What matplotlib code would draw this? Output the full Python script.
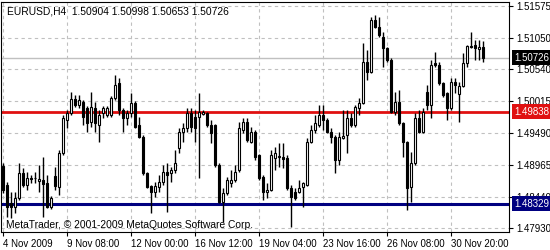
import matplotlib
matplotlib.use('Agg')
import matplotlib.pyplot as plt
import matplotlib.transforms as mtransforms
import numpy as np

# ---- data (EURUSD, H4) ----
opens = [1.48951, 1.48639, 1.48344, 1.48278, 1.48426, 1.48836, 1.48639, 1.48754, 1.48754, 1.48705,
         1.48721, 1.48672, 1.48278, 1.48787, 1.48606, 1.49164, 1.49705, 1.49820, 1.50049, 1.49951,
         1.50000, 1.49902, 1.49672, 1.49902, 1.49623, 1.49820, 1.49787, 1.49787, 1.50066, 1.50312,
         1.49869, 1.49738, 1.49820, 1.49984, 1.49623, 1.49426, 1.48836, 1.48623, 1.48524, 1.48606,
         1.48688, 1.48852, 1.48836, 1.48885, 1.49246, 1.49508, 1.49574, 1.49820, 1.49754, 1.49754,
         1.49803, 1.49820, 1.49623, 1.49623, 1.48967, 1.48360, 1.48508, 1.48672, 1.48721, 1.48885,
         1.49541, 1.49672, 1.49344, 1.49508, 1.49131, 1.48770, 1.48524, 1.48557, 1.49082, 1.49098,
         1.49098, 1.49082, 1.48590, 1.48524, 1.48524, 1.48606, 1.48639, 1.49344, 1.49541, 1.49623,
         1.49787, 1.49705, 1.49508, 1.49426, 1.49049, 1.49410, 1.49459, 1.49738, 1.49623, 1.49902,
         1.49984, 1.50656, 1.50492, 1.51345, 1.51230, 1.51066, 1.50886, 1.50689, 1.49836, 1.50000,
         1.49656, 1.49344, 1.48606, 1.49000, 1.49738, 1.49508, 1.50164, 1.49951, 1.50640, 1.50607,
         1.50312, 1.50148, 1.49902, 1.50328, 1.50131, 1.50263, 1.50640, 1.50919, 1.50935, 1.50869,
         1.50904]
highs = [1.49000, 1.48688, 1.48524, 1.48524, 1.49000, 1.48918, 1.48852, 1.48803, 1.48852, 1.48967,
         1.49098, 1.48803, 1.48459, 1.48934, 1.49213, 1.49787, 1.49869, 1.50164, 1.50115, 1.50115,
         1.50033, 1.49935, 1.50164, 1.50000, 1.49869, 1.49935, 1.49935, 1.50099, 1.50443, 1.50394,
         1.49902, 1.49869, 1.50148, 1.50017, 1.49754, 1.49459, 1.48852, 1.48639, 1.48688, 1.48803,
         1.48967, 1.49000, 1.48934, 1.49213, 1.49574, 1.49656, 1.49902, 1.49902, 1.49869, 1.50148,
         1.49869, 1.49836, 1.49705, 1.49640, 1.49000, 1.48590, 1.48770, 1.48885, 1.48967, 1.49672,
         1.49738, 1.49738, 1.49590, 1.49541, 1.49148, 1.48803, 1.48672, 1.49213, 1.49262, 1.49328,
         1.49328, 1.49131, 1.48639, 1.48590, 1.48721, 1.48688, 1.49410, 1.49623, 1.49787, 1.49951,
         1.49951, 1.49738, 1.49574, 1.49459, 1.49508, 1.49869, 1.49869, 1.49820, 1.49951, 1.50066,
         1.50968, 1.50853, 1.51394, 1.51427, 1.51394, 1.51148, 1.50902, 1.50722, 1.50164, 1.50197,
         1.49672, 1.49360, 1.49180, 1.49820, 1.49869, 1.49902, 1.50279, 1.50689, 1.50820, 1.50656,
         1.50328, 1.50164, 1.50394, 1.50394, 1.50328, 1.50804, 1.50935, 1.51148, 1.51017, 1.51017,
         1.50998]
lows = [1.48508, 1.48114, 1.48098, 1.48180, 1.48393, 1.48606, 1.48557, 1.48672, 1.48672, 1.48524,
        1.48114, 1.48261, 1.48245, 1.48557, 1.48475, 1.49131, 1.49574, 1.49787, 1.49918, 1.49902,
        1.49623, 1.49508, 1.49590, 1.49508, 1.49344, 1.49738, 1.49754, 1.49754, 1.50033, 1.49787,
        1.49508, 1.49623, 1.49754, 1.49580, 1.49410, 1.48803, 1.48590, 1.48180, 1.48442, 1.48524,
        1.48639, 1.48196, 1.48688, 1.48836, 1.49164, 1.49344, 1.49508, 1.49508, 1.49344, 1.48754,
        1.49787, 1.49590, 1.49328, 1.48934, 1.48344, 1.48032, 1.48475, 1.48606, 1.48688, 1.48852,
        1.49492, 1.49344, 1.49328, 1.49049, 1.48721, 1.48393, 1.48426, 1.48541, 1.48885, 1.48934,
        1.48918, 1.48557, 1.47950, 1.48393, 1.48508, 1.48278, 1.48623, 1.49328, 1.49492, 1.49590,
        1.49541, 1.49492, 1.49328, 1.48836, 1.48967, 1.49394, 1.49164, 1.49590, 1.49590, 1.49787,
        1.49967, 1.50361, 1.50476, 1.51214, 1.51066, 1.50574, 1.50656, 1.49820, 1.49787, 1.49623,
        1.49098, 1.48229, 1.48360, 1.48967, 1.49492, 1.49492, 1.49869, 1.49738, 1.50574, 1.50279,
        1.50082, 1.49705, 1.49869, 1.50148, 1.49672, 1.50246, 1.50574, 1.50886, 1.50689, 1.50689,
        1.50653]
closes = [1.48557, 1.48278, 1.48278, 1.48426, 1.48836, 1.48639, 1.48754, 1.48737, 1.48750, 1.48737,
          1.48655, 1.48278, 1.48426, 1.48623, 1.49164, 1.49738, 1.49820, 1.50049, 1.49951, 1.50033,
          1.49754, 1.49656, 1.49918, 1.49656, 1.49787, 1.49902, 1.49902, 1.50066, 1.50279, 1.49869,
          1.49738, 1.49820, 1.49984, 1.49590, 1.49426, 1.48836, 1.48606, 1.48524, 1.48623, 1.48688,
          1.48852, 1.48803, 1.48885, 1.49000, 1.49508, 1.49574, 1.49820, 1.49590, 1.49574, 1.49836,
          1.49836, 1.49623, 1.49492, 1.48967, 1.48360, 1.48508, 1.48721, 1.48721, 1.48852, 1.49574,
          1.49672, 1.49377, 1.49508, 1.49098, 1.48754, 1.48524, 1.48557, 1.49131, 1.49164, 1.49115,
          1.49065, 1.48590, 1.48442, 1.48426, 1.48590, 1.48672, 1.49344, 1.49541, 1.49656, 1.49787,
          1.49705, 1.49508, 1.49426, 1.49049, 1.49426, 1.49443, 1.49738, 1.49623, 1.49918, 1.49984,
          1.50656, 1.50492, 1.51345, 1.51230, 1.51099, 1.50886, 1.50689, 1.49836, 1.50000, 1.49656,
          1.49344, 1.48590, 1.49000, 1.49738, 1.49508, 1.49836, 1.49951, 1.50607, 1.50607, 1.50312,
          1.50115, 1.49902, 1.50328, 1.50279, 1.50263, 1.50640, 1.50919, 1.50902, 1.50886, 1.50902,
          1.50726]

x_tick_pos = [0, 16, 32, 48, 64, 80, 96, 112]
x_tick_labels = ["4 Nov 2009", "9 Nov 08:00", "12 Nov 00:00", "16 Nov 12:00",
                 "19 Nov 04:00", "23 Nov 16:00", "26 Nov 08:00", "30 Nov 20:00"]
y_ticks = [1.51575, 1.51050, 1.50540, 1.50015, 1.49490, 1.48965, 1.48440, 1.47930]
current_price = 1.50726
red_level = 1.49838
blue_level = 1.48329
header = "EURUSD,H4  1.50904 1.50998 1.50653 1.50726"
copyright_text = "MetaTrader, \u00a9 2001-2009 MetaQuotes Software Corp."

FONT = "Liberation Sans"
FS = 7.0
FS_TXT = 7.35

fig = plt.figure(figsize=(5.5, 2.5), dpi=100)
fig.patch.set_facecolor("white")
ax = fig.add_axes([1/550, 18/250, 508/550, 230/250])
ax.set_facecolor("white")

o = np.array(opens); h = np.array(highs); l = np.array(lows); c = np.array(closes)
x = np.arange(len(o))
up = c >= o

# grid
ax.set_yticks(y_ticks)
ax.set_xticks(x_tick_pos)
ax.grid(True, color="#c0c0c0", linestyle=(0, (3, 3)), linewidth=0.8, zorder=0)
ax.axhline(current_price, color="#c0c0c0", linewidth=1.0, zorder=1)

# levels
ax.axhline(red_level, color="#e01010", linewidth=2.0, zorder=2)
ax.axhline(blue_level, color="#000080", linewidth=2.2, zorder=2)

# candles
ax.vlines(x, l, h, color="black", linewidth=1.0, zorder=3)
body_h = np.abs(c - o)
ax.bar(x, body_h, bottom=np.minimum(o, c), width=0.72,
       color=np.where(up, "white", "black"), edgecolor="black", linewidth=0.8, zorder=4)

ax.set_xlim(-0.5, 126.5)
ax.set_ylim(1.47868, 1.51640)

for s in ax.spines.values():
    s.set_color("black")
    s.set_linewidth(0.8)

ax.yaxis.tick_right()
ax.set_yticklabels([f"{v:.5f}" for v in y_ticks], fontsize=FS, family=FONT)
ax.set_xticklabels(x_tick_labels, fontsize=FS, family=FONT, ha="left")
ax.tick_params(axis="y", direction="out", length=3, width=0.8, pad=2, colors="black")
ax.tick_params(axis="x", direction="out", length=3, width=0.8, pad=2, colors="black")

# price label boxes (they cover the axis labels beneath, as in the terminal)
trans = mtransforms.blended_transform_factory(ax.transAxes, ax.transData)
offset = mtransforms.ScaledTranslation(5/100, 0, fig.dpi_scale_trans)
for val, fc in [(current_price, "black"), (red_level, "#e01010"), (blue_level, "#000080")]:
    ax.text(1.0, val, f"{val:.5f}", transform=trans + offset, ha="left", va="center",
            fontsize=FS, family=FONT, color="white", clip_on=False, zorder=10,
            bbox=dict(boxstyle="square,pad=0.25", fc=fc, ec="none"))

fig.text(7/550, 1 - 11/250, header, fontsize=FS_TXT, family=FONT, va="center", ha="left")
fig.text(6/550, 1 - 225/250, copyright_text, fontsize=FS_TXT, family=FONT, va="center", ha="left")

fig.savefig("out.png", dpi=100, facecolor="white")
